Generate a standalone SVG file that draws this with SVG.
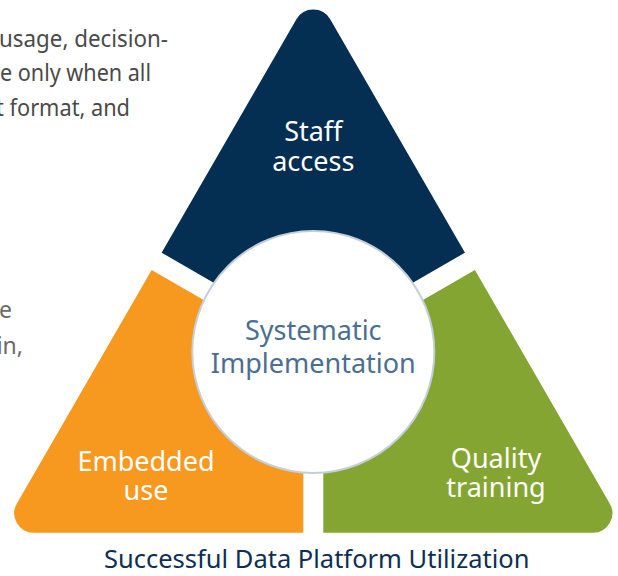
<svg xmlns="http://www.w3.org/2000/svg" width="618" height="576" viewBox="0 0 618 576">
<style>
.bg{font-family:"Noto Sans","Open Sans",sans-serif;font-size:23px;fill:#4a4a4a}
.lbl{font-family:"Noto Sans","Open Sans",sans-serif;font-size:27px;fill:#ffffff;text-anchor:middle}
.ctr{font-family:"Noto Sans","Open Sans",sans-serif;font-size:27px;fill:#4b6f91;text-anchor:middle}
.ttl{font-family:"Noto Sans","Open Sans",sans-serif;font-size:25.5px;fill:#0c2f55;text-anchor:middle}
</style>
<defs>
<clipPath id="tri">
<path d="M296.4,19.27 A19.5,19.5 0 0 1 330.2,19.27 L609.7,503.4 A19.5,19.5 0 0 1 592.8,532.7 L33.8,532.7 A19.5,19.5 0 0 1 16.9,503.4 Z"/>
</clipPath>
</defs>
<rect width="618" height="576" fill="#ffffff"/>
<g id="background-text">
<text class="bg" x="-1" y="47" textLength="169" lengthAdjust="spacingAndGlyphs">usage, decision-</text>
<text class="bg" x="0" y="81" textLength="151" lengthAdjust="spacingAndGlyphs">e only when all</text>
<text class="bg" x="-4" y="116" textLength="134" lengthAdjust="spacingAndGlyphs">t format, and</text>
<text class="bg" x="12" y="318" text-anchor="end" style="fill:#6a6a6a">e</text>
<text class="bg" x="23" y="354" text-anchor="end" style="fill:#6a6a6a">in,</text>
</g>
<g id="staff-access">
<polygon clip-path="url(#tri)" fill="#042e52" points="313.3,340.25 0,159.3 0,-20 626.6,-20 626.6,159.3"/>
<text class="lbl" x="313.3" y="141">Staff</text>
<text class="lbl" x="313.3" y="171">access</text>
</g>
<g id="embedded-use">
<polygon clip-path="url(#tri)" fill="#f7981f" points="303.3,357.57 0,182.4 -20,182.4 -20,560 303.3,560"/>
<text class="lbl" x="146" y="471">Embedded</text>
<text class="lbl" x="146" y="500">use</text>
</g>
<g id="quality-training">
<polygon clip-path="url(#tri)" fill="#84a531" points="323.3,357.57 626.6,182.4 650,182.4 650,560 323.3,560"/>
<text class="lbl" x="496" y="468">Quality</text>
<text class="lbl" x="496" y="497">training</text>
</g>
<g id="connectors"></g>
<g id="systematic-implementation">
<circle cx="313.3" cy="352" r="121" fill="#ffffff" stroke="#c6cfd9" stroke-width="2"/>
<text class="ctr" x="313.3" y="340">Systematic</text>
<text class="ctr" x="313.3" y="373">Implementation</text>
</g>
<g id="title">
<text class="ttl" x="316.7" y="568">Successful Data Platform Utilization</text>
</g>
</svg>
